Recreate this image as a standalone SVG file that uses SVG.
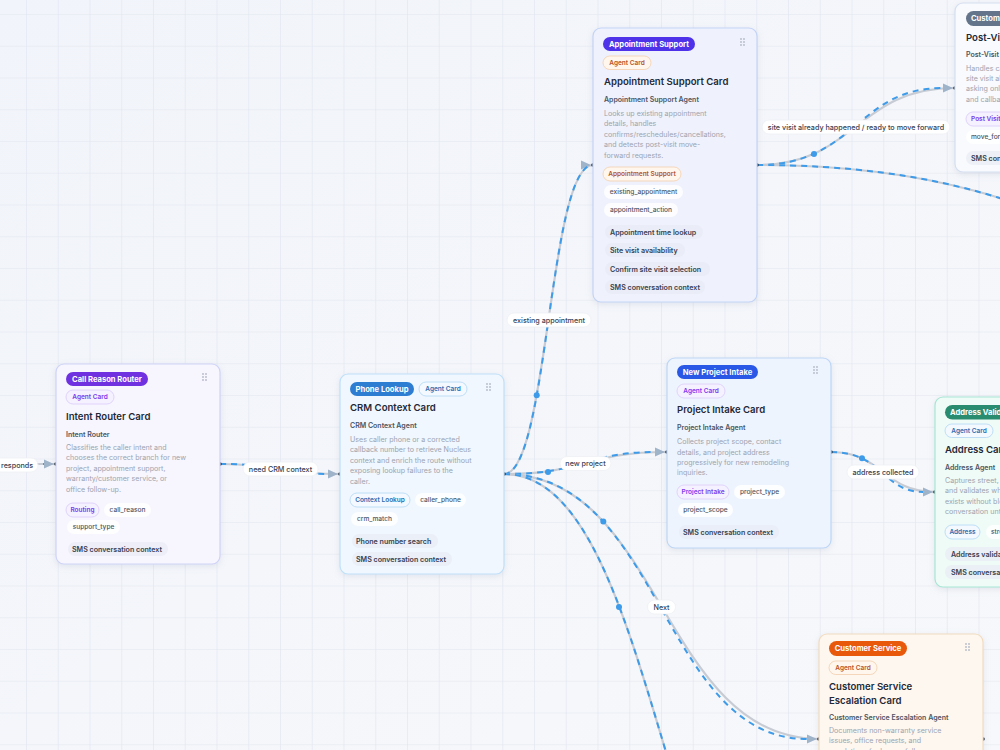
<svg xmlns="http://www.w3.org/2000/svg" width="1000" height="750" viewBox="0 0 1000 750">
<defs>
<pattern id="grid" x="26" y="14" width="31.75" height="31.75" patternUnits="userSpaceOnUse">
<path d="M0,0 L31.75,0 M0,0 L0,31.75" stroke="#e1e5ee" stroke-width="1.2" fill="none"/>
</pattern>
<linearGradient id="bg" x1="0" y1="0" x2="1" y2="1">
<stop offset="0" stop-color="#f1f4fa"/>
<stop offset="1" stop-color="#f7f8fb"/>
</linearGradient>
<filter id="sh" x="-10%" y="-10%" width="120%" height="120%">
<feDropShadow dx="0" dy="2" stdDeviation="3" flood-color="#94a3b8" flood-opacity="0.22"/>
</filter>
<marker id="arr" viewBox="0 0 10 10" refX="12" refY="5" markerWidth="10" markerHeight="10" markerUnits="userSpaceOnUse" orient="auto">
<path d="M0,0.5 L10,5 L0,9.5 z" fill="#9fb3c9"/>
</marker>
<style>
text{font-family:Inter,"Liberation Sans",sans-serif}
.ct{font-size:9.6px;font-weight:600;fill:#1f2937}
.sub{font-size:7px;font-weight:600;fill:#4b5563}
.desc{font-size:7.1px;font-weight:400;fill:#9ca3af}
.bt{font-size:7.6px;font-weight:700;fill:#ffffff}
.pt{font-size:6.5px;font-weight:600}
.tt{font-size:6.6px;font-weight:500;fill:#4b5563}
.ft{font-size:7.1px;font-weight:600;fill:#374151}
.lbl{font-size:7.2px;font-weight:500;fill:#374151}
.mid{text-anchor:middle}
.base{fill:none;stroke:#c7cbd3;stroke-width:2.2}
.dash{fill:none;stroke:#3d9be9;stroke-width:2;stroke-dasharray:6 5}
.mdot{fill:#3d9be9}
.hdot{fill:#1f2937}
.lbox{fill:#ffffff;stroke:#eef0f4;stroke-width:0.8}
.tag{fill:#ffffff;fill-opacity:0.85}
.feat{fill:#e6eaf3;fill-opacity:0.6}
.hd{fill:#b3bac6}
.purp{fill:#f6f1ff;stroke:#dccffb;stroke-width:0.9}
.purpt{fill:#7c3aed}
.blu{fill:#f3f9ff;stroke:#b9daf5;stroke-width:0.9}
.blut{fill:#2b6cb0}
.org{fill:#fff6ee;stroke:#f4d3b3;stroke-width:0.9}
.orgt{fill:#b5542a}
</style>
</defs>
<rect width="1000" height="750" fill="url(#bg)"/>
<rect width="1000" height="750" fill="url(#grid)"/>

<g id="connectors">
<path class="base" d="M-100,464 L56,464" marker-end="url(#arr)"/>
<path class="dash" d="M-100,464 L44,464"/>
<path class="base" d="M220,464 C280,464 280,474 340,474" marker-end="url(#arr)"/>
<path class="dash" d="M220,464 C280,464 280,474 328,474"/>
<path class="base" d="M504,474 C548.5,474 548.5,165 593,165" marker-end="url(#arr)"/>
<path class="dash" d="M504,474 C548.5,474 548.5,165 593,165"/>
<circle class="mdot" cx="536.7" cy="395.2" r="3"/>
<path class="base" d="M504,474 C585.5,474 585.5,452 667,452" marker-end="url(#arr)"/>
<path class="dash" d="M504,474 C585.5,474 585.5,452 655,452"/>
<circle class="mdot" cx="548" cy="472" r="3"/>
<path class="base" d="M757,165 C856,165 856,88 955,88" marker-end="url(#arr)"/>
<path class="dash" d="M757,165 C856,165 856,88 943,88"/>
<circle class="mdot" cx="814" cy="154" r="3"/>
<path class="base" d="M757,165 C1128.5,165 1128.5,335 1500,335"/>
<path class="dash" d="M757,165 C1128.5,165 1128.5,335 1500,335"/>
<path class="base" d="M504,474 C661.5,474 661.5,739 819,739" marker-end="url(#arr)"/>
<path class="dash" d="M504,474 C661.5,474 661.5,739 807,739"/>
<circle class="mdot" cx="603.3" cy="521.5" r="3"/>
<path class="base" d="M504,474 C661.5,474 661.5,1000 819,1000"/>
<path class="dash" d="M504,474 C661.5,474 661.5,1000 819,1000"/>
<circle class="mdot" cx="619" cy="607" r="3"/>
<path class="base" d="M831,452 C883,452 883,492 935,492" marker-end="url(#arr)"/>
<path class="dash" d="M831,452 C883,452 883,492 923,492"/>
<circle class="mdot" cx="862" cy="458.3" r="3"/>

<rect class="lbox" x="-6" y="458" width="44" height="14" rx="7"/>
<text class="lbl" x="1" y="467.5">responds</text>
<rect class="lbox" x="243" y="462" width="75" height="14" rx="7"/>
<text class="lbl mid" x="280.5" y="471.5">need CRM context</text>
<rect class="lbox" x="507" y="313" width="84" height="14" rx="7"/>
<text class="lbl mid" x="549" y="322.5">existing appointment</text>
<rect class="lbox" x="560" y="456.5" width="51" height="14" rx="7"/>
<text class="lbl mid" x="585.5" y="466">new project</text>
<rect class="lbox" x="762" y="120" width="188" height="14" rx="7"/>
<text class="lbl mid" x="856" y="129.5">site visit already happened / ready to move forward</text>
<rect class="lbox" x="647.5" y="600" width="28" height="14" rx="7"/>
<text class="lbl mid" x="661.5" y="609.5">Next</text>
<rect class="lbox" x="847" y="465" width="72" height="14" rx="7"/>
<text class="lbl mid" x="883" y="474.5">address collected</text>

<circle class="hdot" cx="56" cy="464" r="1.8"/>
<circle class="hdot" cx="220" cy="464" r="1.8"/>
<circle class="hdot" cx="340" cy="474" r="1.8"/>
<circle class="hdot" cx="504" cy="474" r="1.8"/>
<circle class="hdot" cx="593" cy="165" r="1.8"/>
<circle class="hdot" cx="757" cy="165" r="1.8"/>
<circle class="hdot" cx="667" cy="452" r="1.8"/>
<circle class="hdot" cx="831" cy="452" r="1.8"/>
<circle class="hdot" cx="955" cy="88" r="1.8"/>
<circle class="hdot" cx="935" cy="492" r="1.8"/>
<circle class="hdot" cx="819" cy="739" r="1.8"/>
<circle class="hdot" cx="983" cy="739" r="1.8"/>
</g>

<g id="node-call-reason-router">
<rect x="56" y="364" width="164" height="200" rx="8" fill="#f7f6fe" stroke="#cfd3f7" stroke-width="1.2" filter="url(#sh)"/>
<rect x="66" y="372" width="82" height="14" rx="7" fill="#7032e0"/>
<text class="bt mid" x="107" y="381.8">Call Reason Router</text>
<g class="hd"><circle cx="203" cy="374" r="0.9"/><circle cx="206" cy="374" r="0.9"/><circle cx="203" cy="377" r="0.9"/><circle cx="206" cy="377" r="0.9"/><circle cx="203" cy="380" r="0.9"/><circle cx="206" cy="380" r="0.9"/></g>
<rect class="purp" x="66" y="390" width="48" height="14" rx="7"/>
<text class="pt purpt mid" x="90" y="399.3">Agent Card</text>
<text class="ct" x="66" y="419.5">Intent Router Card</text>
<text class="sub" x="66" y="436.5">Intent Router</text>
<text class="desc" x="66" y="449.5">Classifies the caller intent and</text>
<text class="desc" x="66" y="460">chooses the correct branch for new</text>
<text class="desc" x="66" y="470.5">project, appointment support,</text>
<text class="desc" x="66" y="481">warranty/customer service, or</text>
<text class="desc" x="66" y="491.5">office follow-up.</text>
<rect class="purp" x="66" y="503" width="33" height="14" rx="7"/>
<text class="pt purpt mid" x="82.5" y="512.3">Routing</text>
<rect class="tag" x="104" y="503" width="47" height="14" rx="7"/>
<text class="tt mid" x="127.5" y="512.3">call_reason</text>
<rect class="tag" x="67" y="520" width="53" height="14" rx="7"/>
<text class="tt mid" x="93.5" y="529.3">support_type</text>
<rect class="feat" x="68" y="542" width="100" height="14" rx="7"/>
<text class="ft" x="72" y="551.5">SMS conversation context</text>
</g>

<g id="node-phone-lookup">
<rect x="340" y="374" width="164" height="200" rx="8" fill="#f0f7fe" stroke="#bfe0f9" stroke-width="1.2" filter="url(#sh)"/>
<rect x="350" y="382" width="64" height="14" rx="7" fill="#2d7dd2"/>
<text class="bt mid" x="382" y="391.8">Phone Lookup</text>
<rect class="blu" x="419" y="382" width="48" height="14" rx="7"/>
<text class="pt blut mid" x="443" y="391.3">Agent Card</text>
<g class="hd"><circle cx="487" cy="384" r="0.9"/><circle cx="490" cy="384" r="0.9"/><circle cx="487" cy="387" r="0.9"/><circle cx="490" cy="387" r="0.9"/><circle cx="487" cy="390" r="0.9"/><circle cx="490" cy="390" r="0.9"/></g>
<text class="ct" x="350" y="410.5">CRM Context Card</text>
<text class="sub" x="350" y="427.5">CRM Context Agent</text>
<text class="desc" x="350" y="441.5">Uses caller phone or a corrected</text>
<text class="desc" x="350" y="452">callback number to retrieve Nucleus</text>
<text class="desc" x="350" y="462.5">context and enrich the route without</text>
<text class="desc" x="350" y="473">exposing lookup failures to the</text>
<text class="desc" x="350" y="483.5">caller.</text>
<rect class="blu" x="350" y="493" width="60" height="14" rx="7"/>
<text class="pt blut mid" x="380" y="502.3">Context Lookup</text>
<rect class="tag" x="415" y="493" width="51" height="14" rx="7"/>
<text class="tt mid" x="440.5" y="502.3">caller_phone</text>
<rect class="tag" x="351" y="512" width="47" height="14" rx="7"/>
<text class="tt mid" x="374.5" y="521.3">crm_match</text>
<rect class="feat" x="352" y="534" width="86" height="14" rx="7"/>
<text class="ft" x="356" y="543.5">Phone number search</text>
<rect class="feat" x="352" y="552" width="100" height="14" rx="7"/>
<text class="ft" x="356" y="561.5">SMS conversation context</text>
</g>

<g id="node-appointment-support">
<rect x="593" y="28" width="164" height="274" rx="8" fill="#eff2fd" stroke="#c3d3f6" stroke-width="1.2" filter="url(#sh)"/>
<rect x="603" y="37" width="92" height="14" rx="7" fill="#4d32ea"/>
<text class="bt mid" x="649" y="46.8">Appointment Support</text>
<g class="hd"><circle cx="741" cy="39" r="0.9"/><circle cx="744" cy="39" r="0.9"/><circle cx="741" cy="42" r="0.9"/><circle cx="744" cy="42" r="0.9"/><circle cx="741" cy="45" r="0.9"/><circle cx="744" cy="45" r="0.9"/></g>
<rect class="org" x="603" y="56" width="48" height="13.5" rx="6.75"/>
<text class="pt orgt mid" x="627" y="65">Agent Card</text>
<text class="ct" x="604" y="84.5">Appointment Support Card</text>
<text class="sub" x="604" y="101.5">Appointment Support Agent</text>
<text class="desc" x="604" y="115.5">Looks up existing appointment</text>
<text class="desc" x="604" y="126">details, handles</text>
<text class="desc" x="604" y="136.5">confirms/reschedules/cancellations,</text>
<text class="desc" x="604" y="147">and detects post-visit move-</text>
<text class="desc" x="604" y="157.5">forward requests.</text>
<rect class="org" x="603" y="167" width="78" height="14" rx="7"/>
<text class="pt orgt mid" x="642" y="176.3">Appointment Support</text>
<rect class="tag" x="604" y="185" width="79" height="14" rx="7"/>
<text class="tt mid" x="643.5" y="194.3">existing_appointment</text>
<rect class="tag" x="604" y="203" width="74" height="14" rx="7"/>
<text class="tt mid" x="641" y="212.3">appointment_action</text>
<rect class="feat" x="605" y="225" width="98" height="14" rx="7"/>
<text class="ft" x="610" y="234.5">Appointment time lookup</text>
<rect class="feat" x="605" y="243" width="80" height="14" rx="7"/>
<text class="ft" x="610" y="252.5">Site visit availability</text>
<rect class="feat" x="605" y="262" width="105" height="14" rx="7"/>
<text class="ft" x="610" y="271.5">Confirm site visit selection</text>
<rect class="feat" x="605" y="280" width="100" height="14" rx="7"/>
<text class="ft" x="610" y="289.5">SMS conversation context</text>
</g>

<g id="node-new-project-intake">
<rect x="667" y="358" width="164" height="190" rx="8" fill="#eef4fe" stroke="#bdd6f6" stroke-width="1.2" filter="url(#sh)"/>
<rect x="677" y="365" width="81" height="14" rx="7" fill="#2a58e6"/>
<text class="bt mid" x="717.5" y="374.8">New Project Intake</text>
<g class="hd"><circle cx="814" cy="367" r="0.9"/><circle cx="817" cy="367" r="0.9"/><circle cx="814" cy="370" r="0.9"/><circle cx="817" cy="370" r="0.9"/><circle cx="814" cy="373" r="0.9"/><circle cx="817" cy="373" r="0.9"/></g>
<rect class="purp" x="677" y="384" width="48" height="14" rx="7"/>
<text class="pt purpt mid" x="701" y="393.3">Agent Card</text>
<text class="ct" x="677" y="412.5">Project Intake Card</text>
<text class="sub" x="677" y="429.5">Project Intake Agent</text>
<text class="desc" x="677" y="443.5">Collects project scope, contact</text>
<text class="desc" x="677" y="454.5">details, and project address</text>
<text class="desc" x="677" y="465">progressively for new remodeling</text>
<text class="desc" x="677" y="475">inquiries.</text>
<rect class="purp" x="677" y="485" width="52" height="14" rx="7"/>
<text class="pt purpt mid" x="703" y="494.3">Project Intake</text>
<rect class="tag" x="734" y="485" width="51" height="14" rx="7"/>
<text class="tt mid" x="759.5" y="494.3">project_type</text>
<rect class="tag" x="678" y="503" width="55" height="14" rx="7"/>
<text class="tt mid" x="705.5" y="512.3">project_scope</text>
<rect class="feat" x="679" y="525" width="100" height="14" rx="7"/>
<text class="ft" x="683" y="534.5">SMS conversation context</text>
</g>

<g id="node-post-visit">
<rect x="955" y="3" width="180" height="169" rx="8" fill="#f9fafd" stroke="#d5dff0" stroke-width="1.2" filter="url(#sh)"/>
<rect x="966" y="11" width="80" height="15" rx="7.5" fill="#64748b"/>
<text class="bt" x="971" y="21">Customer</text>
<text class="ct" x="966" y="40.5">Post-Visit</text>
<text class="sub" x="966" y="57">Post-Visit Agent</text>
<text class="desc" x="966" y="70.5">Handles callers</text>
<text class="desc" x="966" y="81">site visit already</text>
<text class="desc" x="966" y="91">asking only</text>
<text class="desc" x="966" y="101.5">and callbacks</text>
<rect class="purp" x="966" y="112" width="60" height="14" rx="7"/>
<text class="pt purpt" x="971" y="121.3">Post Visit</text>
<rect class="tag" x="966" y="130" width="60" height="14" rx="7"/>
<text class="tt" x="971" y="139.3">move_forward</text>
<rect class="feat" x="966" y="151" width="100" height="14" rx="7"/>
<text class="ft" x="971" y="160.5">SMS conversation</text>
</g>

<g id="node-address">
<rect x="935" y="397" width="180" height="190" rx="8" fill="#effbf7" stroke="#a8e6d3" stroke-width="1.2" filter="url(#sh)"/>
<rect x="945" y="405" width="90" height="14.5" rx="7.25" fill="#2a8c6f"/>
<text class="bt" x="950" y="414.8">Address Validation</text>
<rect class="blu" x="945" y="424" width="48" height="13.5" rx="6.75"/>
<text class="pt blut mid" x="969" y="433">Agent Card</text>
<text class="ct" x="945" y="452.5">Address Card</text>
<text class="sub" x="945" y="469.5">Address Agent</text>
<text class="desc" x="945" y="482.5">Captures street, city</text>
<text class="desc" x="945" y="493">and validates whether</text>
<text class="desc" x="945" y="503.5">exists without blocking</text>
<text class="desc" x="945" y="514">conversation until</text>
<rect class="blu" x="945" y="525" width="35" height="14" rx="7"/>
<text class="pt blut mid" x="962.5" y="534.3">Address</text>
<rect class="tag" x="986" y="525" width="40" height="14" rx="7"/>
<text class="tt" x="991" y="534.3">street</text>
<rect class="feat" x="945" y="547" width="90" height="14" rx="7"/>
<text class="ft" x="951" y="556.5">Address validation</text>
<rect class="feat" x="945" y="565" width="100" height="14" rx="7"/>
<text class="ft" x="951" y="574.5">SMS conversation context</text>
</g>

<g id="node-customer-service">
<rect x="819" y="634" width="164" height="200" rx="8" fill="#fdf7ef" stroke="#f1dcc0" stroke-width="1.2" filter="url(#sh)"/>
<rect x="829" y="641" width="78" height="15" rx="7.5" fill="#e8590c"/>
<text class="bt mid" x="868" y="651.3">Customer Service</text>
<g class="hd"><circle cx="966" cy="644" r="0.9"/><circle cx="969" cy="644" r="0.9"/><circle cx="966" cy="647" r="0.9"/><circle cx="969" cy="647" r="0.9"/><circle cx="966" cy="650" r="0.9"/><circle cx="969" cy="650" r="0.9"/></g>
<rect class="org" x="829" y="661" width="48" height="13.5" rx="6.75"/>
<text class="pt orgt mid" x="853" y="670">Agent Card</text>
<text class="ct" x="829" y="689.5">Customer Service</text>
<text class="ct" x="829" y="703.5">Escalation Card</text>
<text class="sub" x="829" y="719.5">Customer Service Escalation Agent</text>
<text class="desc" x="829" y="732.5">Documents non-warranty service</text>
<text class="desc" x="829" y="743">issues, office requests, and</text>
<text class="desc" x="829" y="753.5">escalations for human follow-up.</text>
</g>
</svg>
